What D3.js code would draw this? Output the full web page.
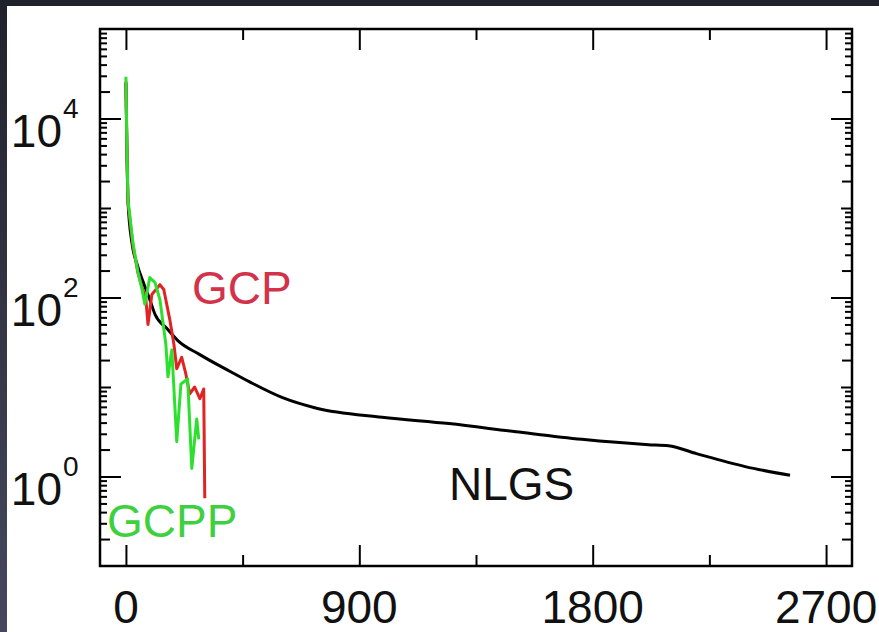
<!DOCTYPE html>
<html>
<head>
<meta charset="utf-8">
<script src="https://cdn.jsdelivr.net/npm/d3@7/dist/d3.min.js"></script>
<style>
  html, body { margin: 0; padding: 0; background: #262833; }
  svg { display: block; }
  text { font-family: "Liberation Sans", Arial, Helvetica, sans-serif; }
</style>
</head>
<body>
<svg id="chart" width="879" height="632"></svg>
<script>
// ---- data ----
const xMajorTicks = [0, 900, 1800, 2700];
const xMinorTicks = [450, 1350, 2250];
const yLabelExps = [0, 2, 4];

const nlgsX = [0, 4, 8, 23, 42, 70, 92, 112, 158, 200, 285, 400, 477, 604, 735, 988, 1246, 1504, 1758, 2015, 2092, 2200, 2388, 2561];
const nlgsY = [25000, 4000, 1200, 410, 240, 140, 95, 65, 45, 33, 23, 15, 11.4, 7.6, 5.8, 4.6, 3.9, 3.16, 2.6, 2.27, 2.21, 1.8, 1.29, 1.03];

const gcpX = [0, 4, 8, 27, 46, 62, 77, 85, 100, 131, 146, 169, 185, 196, 215, 231, 246, 265, 285, 300, 304];
const gcpY = [26000, 4000, 1150, 380, 190, 130, 95, 50, 108, 139, 123, 57, 30, 16, 21.5, 14, 8.4, 10, 7.4, 9.5, 0.57];

const gcppX = [0, 4, 8, 27, 46, 62, 73, 92, 112, 131, 154, 162, 177, 196, 212, 238, 254, 273, 281];
const gcppY = [29300, 4400, 1230, 408, 194, 123, 84, 167, 147, 95, 30, 13, 26, 2.45, 10.8, 12.3, 1.23, 4.4, 2.6];

// ---- layout ----
const W = 879, H = 632;
const L = 100, T = 29, R = 852, B = 566;

const svg = d3.select("#chart");

// dark frame background
const defs = svg.append("defs");
const grad = defs.append("linearGradient").attr("id", "bg").attr("x1", 0).attr("y1", 0).attr("x2", 0).attr("y2", 1);
grad.append("stop").attr("offset", "0%").attr("stop-color", "#20222b");
grad.append("stop").attr("offset", "100%").attr("stop-color", "#47485f");
svg.append("rect").attr("width", W).attr("height", H).attr("fill", "url(#bg)");
svg.append("rect").attr("x", 7).attr("y", 6).attr("width", W - 7).attr("height", H - 6).attr("fill", "#ffffff");

// scales
const x = d3.scaleLinear().domain([-100, 2800]).range([L, R]);
const y = d3.scaleLog().domain([0.1, 1e5]).range([B, T]);

// tick values
const decades = d3.range(-1, 6).map(e => Math.pow(10, e));
const majorY = yLabelExps.map(e => Math.pow(10, e));
const oddDec = decades.filter(v => !majorY.includes(v) && v > 0.1 && v < 1e5);
const minor2 = [], minorRest = [];
for (let e = -1; e < 5; e++) for (let k = 2; k <= 9; k++) {
  (k === 2 ? minor2 : minorRest).push(k * Math.pow(10, e));
}

function addAxis(axisFn, scale, vals, size, transform) {
  const g = svg.append("g").attr("transform", transform)
    .call(axisFn(scale).tickValues(vals).tickSize(size).tickFormat(""));
  g.select(".domain").remove();
  g.selectAll(".tick line").attr("stroke", "#000").attr("stroke-width", 2);
  return g;
}

// y axes (left & right), ticks inward
addAxis(d3.axisLeft, y, majorY, -21, `translate(${L},0)`);
addAxis(d3.axisLeft, y, oddDec, -11, `translate(${L},0)`);
addAxis(d3.axisLeft, y, minor2, -10, `translate(${L},0)`);
addAxis(d3.axisLeft, y, minorRest, -7, `translate(${L},0)`);
addAxis(d3.axisRight, y, majorY, -21, `translate(${R},0)`);
addAxis(d3.axisRight, y, oddDec, -11, `translate(${R},0)`);
addAxis(d3.axisRight, y, minor2, -10, `translate(${R},0)`);
addAxis(d3.axisRight, y, minorRest, -7, `translate(${R},0)`);

// x axes (bottom & top), ticks inward
addAxis(d3.axisBottom, x, xMajorTicks, -21, `translate(0,${B})`);
addAxis(d3.axisBottom, x, xMinorTicks, -11, `translate(0,${B})`);
addAxis(d3.axisTop, x, xMajorTicks, -21, `translate(0,${T})`);
addAxis(d3.axisTop, x, xMinorTicks, -11, `translate(0,${T})`);

// frame
svg.append("rect").attr("x", L).attr("y", T).attr("width", R - L).attr("height", B - T)
  .attr("fill", "none").attr("stroke", "#000").attr("stroke-width", 2.5);

// x tick labels
svg.append("g").selectAll("text").data(xMajorTicks).join("text")
  .attr("x", d => x(d)).attr("y", 623)
  .attr("text-anchor", "middle").attr("font-size", 46).attr("fill", "#111")
  .text(d => d);

// y tick labels 10^n
const yl = svg.append("g").selectAll("g").data(yLabelExps).join("g");
yl.append("text").attr("x", 62).attr("y", d => y(Math.pow(10, d)) + 28)
  .attr("text-anchor", "end").attr("font-size", 46).attr("fill", "#111").text("10");
yl.append("text").attr("x", 63).attr("y", d => y(Math.pow(10, d)) - 1)
  .attr("text-anchor", "start").attr("font-size", 28).attr("fill", "#111").text(d => d);

// lines
const line = d3.line().x(d => x(d[0])).y(d => y(d[1]));
const smooth = d3.line().x(d => x(d[0])).y(d => y(d[1])).curve(d3.curveMonotoneX);
function series(xs, ys) { return xs.map((v, i) => [v, ys[i]]); }

svg.append("path").datum(series(nlgsX, nlgsY)).attr("d", smooth)
  .attr("fill", "none").attr("stroke", "#000").attr("stroke-width", 3).attr("stroke-linejoin", "round");
svg.append("path").datum(series(gcpX, gcpY)).attr("d", line)
  .attr("fill", "none").attr("stroke", "#e02424").attr("stroke-width", 3).attr("stroke-linejoin", "round");
svg.append("path").datum(series(gcppX, gcppY)).attr("d", line)
  .attr("fill", "none").attr("stroke", "#2ee02e").attr("stroke-width", 3).attr("stroke-linejoin", "round");

// annotations
svg.append("text").attr("x", 192).attr("y", 304).attr("font-size", 46).attr("fill", "#d2334a").text("GCP");
svg.append("text").attr("x", 107).attr("y", 537).attr("font-size", 46).attr("fill", "#3fd03f").text("GCPP");
svg.append("text").attr("x", 449).attr("y", 500).attr("font-size", 46).attr("fill", "#111").text("NLGS");
</script>
</body>
</html>
